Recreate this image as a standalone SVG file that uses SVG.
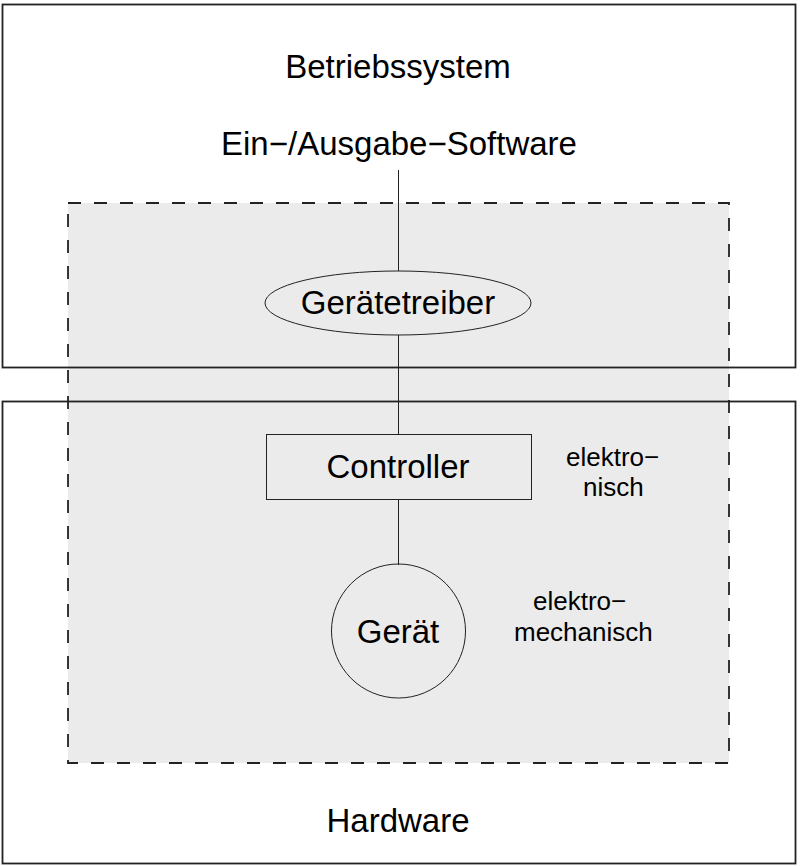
<svg xmlns="http://www.w3.org/2000/svg" width="800" height="866" viewBox="0 0 800 866">
<style>
.box{fill:none;stroke:#222;stroke-width:1.8}
.shape{fill:none;stroke:#222;stroke-width:1}
.conn{stroke:#222;stroke-width:1;fill:none}
.t{font-family:"Liberation Sans",Arial,sans-serif;fill:#000;text-anchor:middle}
.big{font-size:33px}
.small{font-size:26px;text-anchor:start}
</style>
<rect width="800" height="866" fill="#fff"/>
<g id="shaded">
<rect x="68" y="203" width="661" height="560" fill="#ebebeb" stroke="none"/>
</g>
<g id="betriebssystem">
<rect class="box" x="2.5" y="4.5" width="793" height="363"/>
<text class="t big" x="398" y="78">Betriebssystem</text>
</g>
<g id="hardware">
<rect class="box" x="2.5" y="401.5" width="793" height="462"/>
<text class="t big" x="398" y="832">Hardware</text>
</g>
<g id="dashed">
<rect x="68" y="203" width="661" height="560" fill="none" stroke="#222" stroke-width="1.8" stroke-dasharray="13,13"/>
</g>
<g id="connectors">
<line class="conn" x1="398.5" y1="170" x2="398.5" y2="271"/>
<line class="conn" x1="398.5" y1="335" x2="398.5" y2="434"/>
<line class="conn" x1="398.5" y1="499" x2="398.5" y2="565"/>
</g>
<g id="software">
<text class="t big" x="399" y="155">Ein−/Ausgabe−Software</text>
</g>
<g id="geraetetreiber">
<ellipse class="shape" cx="398" cy="303" rx="133" ry="32" fill="#ebebeb"/>
<text class="t big" x="398" y="314">Gerätetreiber</text>
</g>
<g id="controller">
<rect class="shape" x="266.5" y="434.5" width="265" height="65"/>
<text class="t big" x="398" y="478">Controller</text>
</g>
<g id="geraet">
<circle class="shape" cx="398.5" cy="631" r="67"/>
<text class="t big" x="398" y="643">Gerät</text>
</g>
<g id="label-elektronisch">
<text class="t small" x="566" y="466">elektro−</text>
<text class="t small" x="583" y="496">nisch</text>
</g>
<g id="label-elektromechanisch">
<text class="t small" x="533" y="610">elektro−</text>
<text class="t small" x="514" y="641">mechanisch</text>
</g>
</svg>
